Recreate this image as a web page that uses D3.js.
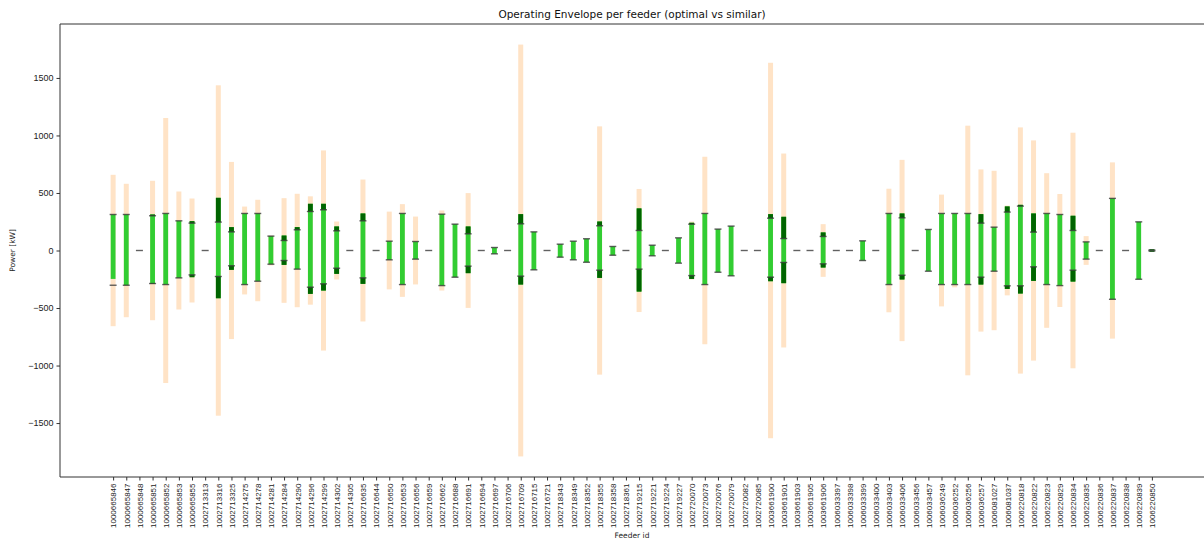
<!DOCTYPE html>
<html>
<head>
<meta charset="utf-8">
<script src="https://cdn.jsdelivr.net/npm/d3@7"></script>
<style>
  body { margin: 0; background: #fff; }
  svg { display: block; font-family: "DejaVu Sans", sans-serif; }
</style>
</head>
<body>
<svg width="1204" height="540"></svg>
<script>
// feeder ids along the x axis
var feederIds = [
  "1000665846","1000665847","1000665848","1000665851","1000665852","1000665853","1000665855",
  "1002713313","1002713316","1002713325","1002714275","1002714278","1002714281","1002714284",
  "1002714290","1002714296","1002714299","1002714302","1002714305","1002716635","1002716644",
  "1002716650","1002716653","1002716656","1002716659","1002716662","1002716688","1002716691",
  "1002716694","1002716697","1002716706","1002716709","1002716715","1002716721","1002718343",
  "1002718349","1002718352","1002718355","1002718358","1002718361","1002719215","1002719221",
  "1002719224","1002719227","1002720070","1002720073","1002720076","1002720079","1002720082",
  "1002720085","1003661900","1003661901","1003661903","1003661905","1003661906","1006033397",
  "1006033398","1006033399","1006033400","1006033403","1006033406","1006033456","1006033457",
  "1006036249","1006036252","1006036256","1006036257","1006081027","1006081037","1006220818",
  "1006220822","1006220823","1006220829","1006220834","1006220835","1006220836","1006220837",
  "1006220838","1006220839","1006220850"
];

// outer envelope (symmetric, +/- value)
var envelope = [
  658,580,0,606,1152,513,452,0,1436,770,382,441,130,455,493,471,870,252,0,617,
  0,338,403,295,0,348,0,499,0,0,0,1790,0,0,0,0,0,1079,0,0,
  535,0,0,0,252,815,0,0,0,0,1632,843,0,0,229,0,0,0,0,537,
  788,0,0,486,320,1085,705,693,390,1070,957,672,491,1024,125,0,766,0,0,0
];

// optimal envelope
var optLo = [
  -247,-302,0,-290,-296,-238,-232,0,-415,-168,-296,-267,-119,-125,-162,-377,-348,-203,0,-290,
  0,-81,-296,-75,0,-305,-232,-197,0,-29,0,-296,-168,0,-58,-81,-102,-238,-41,0,
  -357,-46,0,-110,-247,-296,-189,-220,0,0,-267,-284,0,0,-148,0,0,-87,0,-296,
  -252,0,-180,-296,-296,-296,-296,-180,-334,-374,-264,-296,-305,-270,-75,0,-424,0,-250,-10
];
var optHi = [
  313,313,0,313,322,258,255,0,458,203,322,322,125,130,203,406,406,209,0,322,
  0,81,322,78,0,316,229,209,0,26,0,316,162,0,55,81,102,252,35,0,
  366,46,0,110,241,322,186,212,0,0,316,293,0,0,157,0,0,84,0,322,
  322,0,183,322,322,322,316,203,383,397,322,322,313,302,75,0,453,0,249,10
];

// similar-feeder envelope
var simLo = [
  -302,-302,0,-287,-296,-238,-212,0,-226,-133,-296,-267,-119,-87,-162,-319,-290,-154,0,-238,
  0,-81,-296,-75,0,-305,-232,-136,0,-29,0,-223,-168,0,-58,-81,-102,-171,-41,0,
  -162,-46,0,-110,-218,-296,-189,-220,0,0,-232,-104,0,0,-116,0,0,-87,0,-296,
  -215,0,-180,-296,-296,-296,-232,-180,-307,-307,-142,-296,-305,-171,-75,0,-424,0,-250,-4
];
var simHi = [
  313,313,0,302,322,258,238,0,247,162,322,322,125,87,180,339,354,171,0,258,
  0,81,322,78,0,316,229,145,0,26,0,232,162,0,55,81,102,215,35,0,
  174,46,0,110,229,322,186,212,0,0,281,104,0,0,122,0,0,84,0,322,
  284,0,183,322,322,322,238,203,334,386,160,322,313,174,75,0,453,0,249,4
];

var yTicks = [-1500, -1000, -500, 0, 500, 1000, 1500];

var width = 1204, height = 540;
var margin = {top: 24, right: -1, bottom: 63, left: 60};

var data = feederIds.map((id, i) => ({
  id, env: envelope[i],
  optLo: optLo[i], optHi: optHi[i], simLo: simLo[i], simHi: simHi[i]
}));

var x = d3.scalePoint()
    .domain(feederIds)
    .range([margin.left, width - margin.right])
    .padding(4.04);
var y = d3.scaleLinear()
    .domain([-1969, 1969])
    .range([height - margin.bottom, margin.top]);

var fmt = d => (d < 0 ? "\u2212" : "") + Math.abs(d);

var svg = d3.select("svg");

// outer envelope
svg.append("g").selectAll("rect")
  .data(data.filter(d => d.env > 0))
  .join("rect")
    .attr("x", d => x(d.id) - 2.5)
    .attr("width", 5)
    .attr("y", d => y(d.env))
    .attr("height", d => y(-d.env) - y(d.env))
    .attr("fill", "#ffe3c6");

// optimal range
svg.append("g").selectAll("rect")
  .data(data.filter(d => d.optHi > d.optLo))
  .join("rect")
    .attr("x", d => x(d.id) - 2.4)
    .attr("width", 4.8)
    .attr("y", d => y(d.optHi))
    .attr("height", d => y(d.optLo) - y(d.optHi))
    .attr("fill", "#32cd32");

// where optimal goes beyond the similar range
var extra = [];
data.forEach(d => {
  if (d.optHi > d.simHi) extra.push({id: d.id, lo: d.simHi, hi: d.optHi});
  if (d.optLo < d.simLo) extra.push({id: d.id, lo: d.optLo, hi: d.simLo});
});
svg.append("g").selectAll("rect")
  .data(extra)
  .join("rect")
    .attr("x", d => x(d.id) - 2.4)
    .attr("width", 4.8)
    .attr("y", d => y(d.hi))
    .attr("height", d => y(d.lo) - y(d.hi))
    .attr("fill", "#006400");

// similar range markers
var marks = [];
data.forEach(d => {
  marks.push({id: d.id, v: d.simLo});
  if (d.simHi !== d.simLo) marks.push({id: d.id, v: d.simHi});
});
svg.append("g").selectAll("line")
  .data(marks)
  .join("line")
    .attr("x1", d => x(d.id) - 3.5)
    .attr("x2", d => x(d.id) + 3.5)
    .attr("y1", d => y(d.v))
    .attr("y2", d => y(d.v))
    .attr("stroke", "#3a3a3a")
    .attr("stroke-opacity", 0.8)
    .attr("stroke-width", 1.4);

// axes
var yAxis = g => g
    .attr("transform", `translate(${margin.left},0)`)
    .call(d3.axisLeft(y).tickValues(yTicks).tickFormat(fmt).tickSize(3.5).tickPadding(3))
    .call(g => g.select(".domain").remove())
    .call(g => g.selectAll("text").attr("font-size", 9).attr("fill", "#222"))
    .call(g => g.selectAll("line").attr("stroke", "#333"));

var xAxis = g => g
    .attr("transform", `translate(0,${height - margin.bottom})`)
    .call(d3.axisBottom(x).tickSize(3.5).tickPadding(3).tickSizeOuter(0))
    .call(g => g.select(".domain").remove())
    .call(g => g.selectAll("line").attr("stroke", "#333"))
    .call(g => g.selectAll("text")
        .attr("font-size", 8)
        .attr("fill", "#222")
        .attr("transform", "rotate(-90)")
        .attr("text-anchor", "end")
        .attr("x", -6.5)
        .attr("y", 0)
        .attr("dy", "0.35em"));

svg.append("g").call(yAxis);
svg.append("g").call(xAxis);

// frame (right edge sits just off the page)
svg.append("path")
    .attr("d", `M${width + 2},${margin.top}H${margin.left}V${height - margin.bottom}H${width + 2}`)
    .attr("fill", "none")
    .attr("stroke", "#333")
    .attr("stroke-width", 1);

svg.append("text")
    .attr("x", 632)
    .attr("y", 18)
    .attr("text-anchor", "middle")
    .attr("font-size", 10.5)
    .attr("fill", "#111")
    .text("Operating Envelope per feeder (optimal vs similar)");

svg.append("text")
    .attr("transform", `translate(15,${y(0)}) rotate(-90)`)
    .attr("text-anchor", "middle")
    .attr("font-size", 7.5)
    .attr("fill", "#222")
    .text("Power [kW]");

svg.append("text")
    .attr("x", 632)
    .attr("y", 538)
    .attr("text-anchor", "middle")
    .attr("font-size", 7.5)
    .attr("fill", "#222")
    .text("Feeder id");
</script>
</body>
</html>
